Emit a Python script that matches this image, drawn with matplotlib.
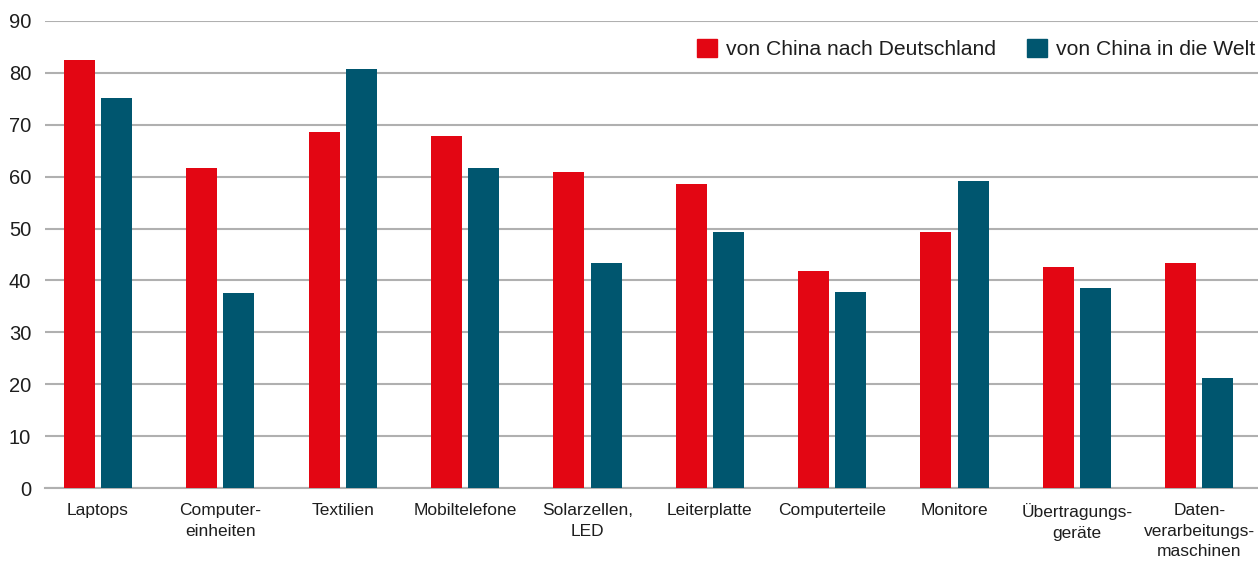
import numpy as np
import matplotlib
matplotlib.use("Agg")
import matplotlib.pyplot as plt
from matplotlib.patches import Patch

plt.rcParams['font.family'] = ['Liberation Sans', 'DejaVu Sans']

# data
categories = ["Laptops", "Computer-\neinheiten", "Textilien", "Mobiltelefone",
              "Solarzellen,\nLED", "Leiterplatte", "Computerteile", "Monitore",
              "Übertragungs-\ngeräte", "Daten-\nverarbeitungs-\nmaschinen"]
china_de = [82.5, 61.7, 68.7, 67.9, 60.9, 58.6, 41.8, 49.4, 42.6, 43.4]
china_welt = [75.2, 37.6, 80.8, 61.7, 43.4, 49.4, 37.8, 59.2, 38.6, 21.2]
series_names = ["von China nach Deutschland", "von China in die Welt"]

red = "#e30613"
blue = "#00566f"
grid_col = "#b0b0b0"
txt = "#1e1e1e"

W, H = 1258, 564
fig = plt.figure(figsize=(W / 100, H / 100), dpi=100)
ax = fig.add_axes([45 / W, 76 / H, (W - 45) / W, (488 - 21) / H])

x = np.arange(len(categories))
bw = 0.253
off = 0.152
ax.bar(x - off, china_de, width=bw, color=red, zorder=3)
ax.bar(x + off, china_welt, width=bw, color=blue, zorder=3)

ax.set_xlim(-0.433, len(categories) - 1 + 0.48)
ax.set_ylim(0, 90)
ax.set_yticks(np.arange(0, 91, 10))
ax.yaxis.grid(True, color=grid_col, linewidth=1.5, zorder=0)
ax.set_axisbelow(True)
for s in ["top", "right", "left"]:
    ax.spines[s].set_visible(False)
ax.spines["bottom"].set_color(grid_col)
ax.spines["bottom"].set_linewidth(1.5)
ax.tick_params(axis="both", length=0, colors=txt)
ax.tick_params(axis="y", labelsize=14.5, pad=10)
ax.set_xticks(x)
ax.set_xticklabels(categories, fontsize=12.5, linespacing=1.45)
ax.tick_params(axis="x", pad=11)

handles = [Patch(color=red), Patch(color=blue)]
leg = ax.legend(handles, series_names, loc="upper right", bbox_to_anchor=(1.005, 0.98),
                ncol=2, frameon=False, fontsize=15.2, handlelength=0.95, handleheight=0.95,
                handletextpad=0.45, columnspacing=1.45, borderaxespad=0.0)
for t in leg.get_texts():
    t.set_color(txt)

fig.savefig("out.png", dpi=100)
